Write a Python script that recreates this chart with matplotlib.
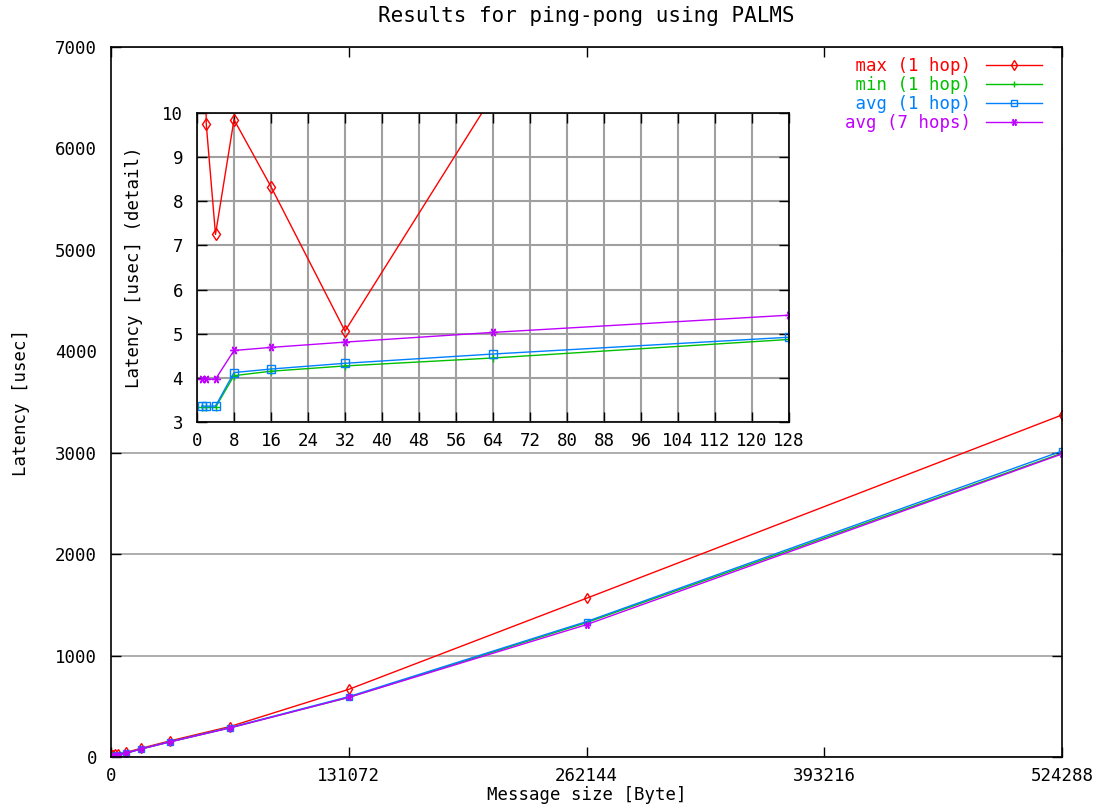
import matplotlib
matplotlib.use('Agg')
import matplotlib.pyplot as plt
from matplotlib.patches import Rectangle

plt.rcParams['font.family'] = ['DejaVu Sans Mono']
plt.rcParams['font.size'] = 12.5

# message sizes in bytes (2^0 .. 2^19)
sizes = [1, 2, 4, 8, 16, 32, 64, 128, 256, 512, 1024, 2048, 4096, 8192,
         16384, 32768, 65536, 131072, 262144, 524288]

lat_max = [18.0, 9.75, 7.25, 9.85, 8.33, 5.06, 10.4, 12.5, 14.0, 16.0, 18.0,
           25.0, 33.0, 45.0, 85.0, 160.0, 300.0, 667.0, 1565.0, 3372.0]
lat_min = [3.33, 3.33, 3.33, 4.05, 4.15, 4.27, 4.45, 4.87, 5.6, 7.0, 9.5,
           13.5, 21.0, 36.0, 78.0, 150.0, 288.0, 588.0, 1325.0, 2995.0]
lat_avg = [3.36, 3.36, 3.36, 4.12, 4.20, 4.33, 4.54, 4.92, 5.7, 7.1, 9.7,
           13.8, 21.5, 37.0, 79.0, 152.0, 290.0, 595.0, 1335.0, 3017.0]
lat_avg7 = [3.97, 3.97, 3.97, 4.62, 4.69, 4.81, 5.03, 5.42, 6.1, 7.5, 10.2,
            14.5, 22.0, 37.0, 78.0, 150.0, 286.0, 588.0, 1305.0, 2988.0]

labels = [' max (1 hop)', ' min (1 hop)', ' avg (1 hop)', 'avg (7 hops)']
colors = ['#ff0000', '#00c000', '#0080ff', '#c000ff']
markers = ['d', '+', 's', (6, 2, 90)]
series = [lat_max, lat_min, lat_avg, lat_avg7]

fig = plt.figure(figsize=(11, 8.11), dpi=100)
ax = fig.add_axes([111/1100, 1-757/811, (1062-111)/1100, (757-47)/811])

for vals, c, m, lab in zip(series, colors, markers, labels):
    mfc = 'none' if m in ('d', 's') else c
    ax.plot(sizes, vals, color=c, lw=1, marker=m, ms=5, mfc=mfc, mec=c,
            mew=1, label=lab, zorder=2)

ax.set_xlim(0, 524288)
ax.set_ylim(0, 7000)
ax.set_xticks([0, 131072, 262144, 393216, 524288])
ax.set_yticks(range(0, 7001, 1000))
ax.tick_params(direction='in', top=True, right=True, length=7, width=1)
ax.tick_params(axis='y', pad=10)
ax.tick_params(axis='x', pad=7)
ax.yaxis.grid(True, color='#a0a0a0', lw=1.2)
for s in ax.spines.values():
    s.set_linewidth(1.2)

# blank area behind the detail plot
ax.add_patch(Rectangle((0, 3500), 524288, 3300, facecolor='white',
                       edgecolor='none', zorder=1.6))

ax.set_title('Results for ping-pong using PALMS', pad=18)
ax.set_xlabel('Message size [Byte]', labelpad=1)
ax.set_ylabel('Latency [usec]', labelpad=18)

leg = ax.legend(loc='upper right', bbox_to_anchor=(1042/1100, 1-57/811),
                bbox_transform=fig.transFigure, frameon=False, borderpad=0,
                borderaxespad=0, markerfirst=False, handlelength=3.2,
                handletextpad=0.9, labelspacing=0.05)
for t, c in zip(leg.get_texts(), colors):
    t.set_color(c)

# detail inset
ins = fig.add_axes([197/1100, 1-422/811, (789-197)/1100, (422-113)/811])
for vals, c, m in zip(series, colors, markers):
    mfc = 'none' if m in ('d', 's') else c
    ins.plot(sizes, vals, color=c, lw=1, marker=m, ms=6, mfc=mfc, mec=c,
             mew=1)
ins.set_xlim(0, 128)
ins.set_ylim(3, 10)
ins.set_xticks(range(0, 129, 8))
ins.set_yticks(range(3, 11))
ins.tick_params(direction='in', top=True, right=True, length=7, width=1)
ins.tick_params(axis='y', pad=10)
ins.tick_params(axis='x', pad=7)
ins.grid(True, color='#a0a0a0', lw=1.5)
ins.set_axisbelow(True)
for s in ins.spines.values():
    s.set_linewidth(1.2)
ins.set_ylabel('Latency [usec] (detail)', labelpad=14)

fig.savefig('out.png', dpi=100)
